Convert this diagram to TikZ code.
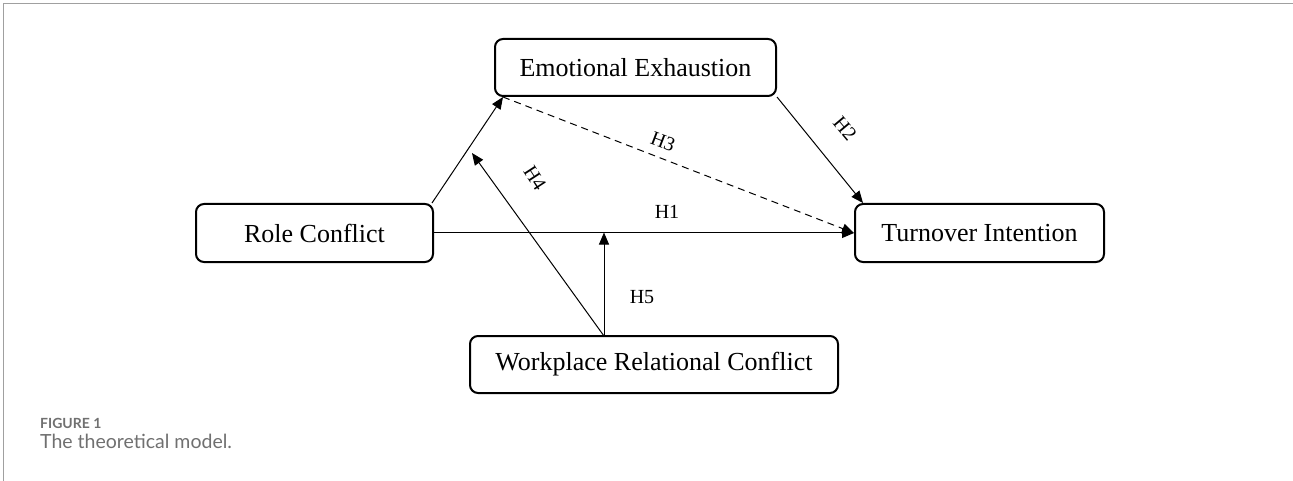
\documentclass[tikz,border=0pt]{standalone}
\usepackage{fontspec}
\setmainfont{Liberation Serif}
\newfontfamily\capfont{Lato}
\usetikzlibrary{arrows.meta,calc}
\definecolor{framegray}{HTML}{A0A0A0}
\definecolor{capgray}{HTML}{707070}
\begin{document}
\begin{tikzpicture}[x=1pt,y=-1pt,
  box/.style={draw,line width=2pt,rounded corners=8pt,inner sep=0pt,font=\fontsize{26}{28}\selectfont},
  conn/.style={line width=1pt,-{Triangle[length=12pt,width=10pt]}},
  hlab/.style={font=\fontsize{20}{22}\selectfont,inner sep=0pt}]
\useasboundingbox (0,0) rectangle (1293,481);
\draw[framegray,line width=1.5pt] (3.5,481) -- (3.5,3.5) -- (1293,3.5);
\node[box,minimum width=281pt,minimum height=57pt] (EE) at (635.5,67.5) {Emotional Exhaustion};
\node[box,minimum width=237pt,minimum height=58pt] (RC) at (314.5,233) {Role Conflict};
\node[box,minimum width=249pt,minimum height=58pt] (TI) at (979.5,233) {Turnover Intention};
\node[box,minimum width=368pt,minimum height=57pt] (WRC) at (654,364.5) {Workplace Relational Conflict};
\coordinate (eein) at (503,97);
\coordinate (rcout) at (432,203);
\coordinate (tiin) at (863,203);
\coordinate (h1mid) at (604,232.5);
\coordinate (wtop) at (604,336);
\coordinate (h4tip) at (472,153);
\draw[conn] (rcout) -- (eein);
\draw[conn,dash pattern=on 7pt off 5pt] (eein) -- (TI.west);
\draw[conn] (RC.east) -- (TI.west);
\draw[conn] (EE.south east) -- (tiin);
\draw[conn] (wtop) -- (h1mid);
\draw[conn] (wtop) -- (h4tip);
\node[hlab] (l1) at (667,212) {H1};
\node[hlab,rotate=-50] (l2) at (845,129) {H2};
\node[hlab,rotate=-21] (l3) at (663,142) {H3};
\node[hlab,rotate=-57] (l4) at (535,178) {H4};
\node[hlab] (l5) at (642,297) {H5};
\node[anchor=west,inner sep=0pt,text=capgray,font=\capfont\bfseries\fontsize{14}{16}\selectfont] (fig) at (40,423) {FIGURE 1};
\node[anchor=west,inner sep=0pt,text=capgray,font=\capfont\fontsize{19.5}{21}\selectfont] (cap) at (40,441) {The theoretical model.};
\end{tikzpicture}
\end{document}
